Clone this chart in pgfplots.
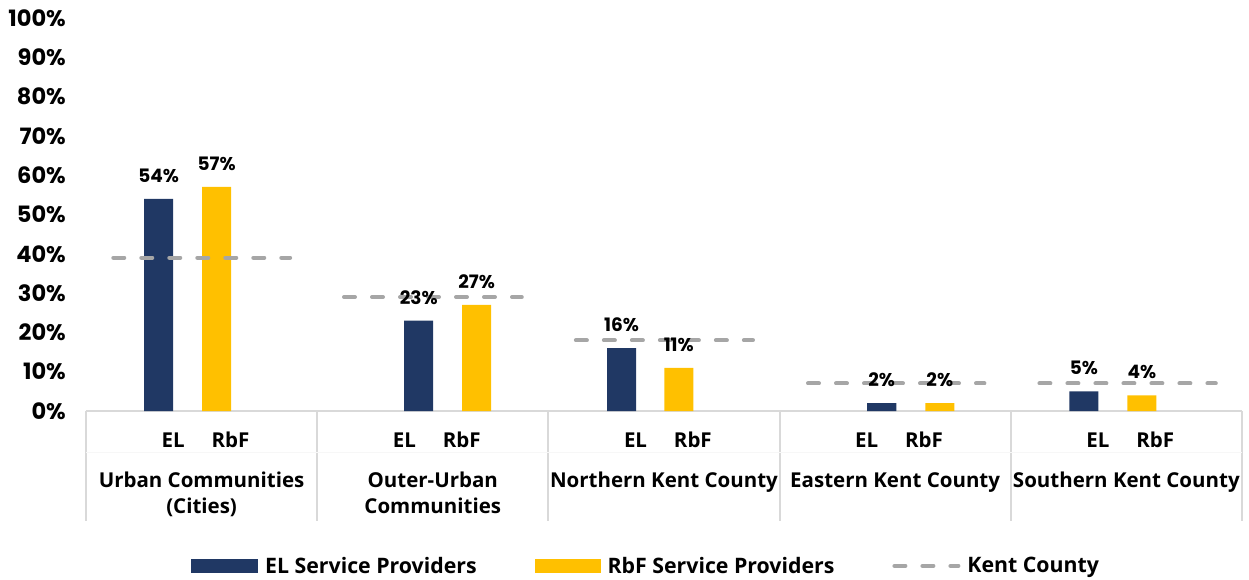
\documentclass[border=0pt]{standalone}
\usepackage{fontspec}
\usepackage{pgfplots}
\pgfplotsset{compat=1.18}
\usepackage{pgfplotstable}
\usetikzlibrary{calc}
\setmainfont{Open Sans}
\newfontfamily\numfont{Poppins}
\definecolor{elblue}{HTML}{203864}
\definecolor{rbfgold}{HTML}{FFC000}
\definecolor{kentgray}{HTML}{A6A6A6}
\definecolor{divgray}{HTML}{D9D9D9}
\newcommand{\catfont}{\bfseries\fontsize{20.5}{24}\selectfont}
\newcommand{\legfont}{\bfseries\fontsize{21.3}{24}\selectfont}
\newcommand{\tickfont}{\numfont\bfseries\fontsize{22.5}{22.5}\selectfont}
\newcommand{\labfont}{\numfont\bfseries\fontsize{18.5}{18.5}\selectfont}

\pgfplotstableread{
x y
0.314 54
1.439 23
2.317 16
3.442 2
4.316 5
}\eldata
\pgfplotstableread{
x y
0.565 57
1.690 27
2.564 11
3.693 2
4.567 4
}\rbfdata
\pgfplotstableread{
x y
0.118 39
0.883 39
1.0 nan
1.116 29
1.885 29
2.0 nan
2.119 18
2.885 18
3.0 nan
3.123 7
3.886 7
4.0 nan
4.124 7
4.887 7
}\kentdata

\begin{document}
\begin{tikzpicture}
\useasboundingbox (-86pt,-168pt) rectangle (1163pt,411pt);
\begin{axis}[
  width=1156pt, height=393pt, scale only axis,
  xmin=0, xmax=5, ymin=0, ymax=100,
  clip=false,
  axis x line*=bottom, axis y line*=left,
  x axis line style={divgray, line width=2pt},
  y axis line style={draw=none},
  xtick=\empty,
  ytick={0,10,...,100},
  ytick style={draw=none},
  major tick length=0pt,
  /pgf/number format/assume math mode=true,
  yticklabel={\pgfmathprintnumber{\tick}\%},
  yticklabel style={font=\tickfont, anchor=east, inner sep=0pt, xshift=-20pt},
  unbounded coords=jump,
  legend columns=3,
  legend cell align=left,
  legend style={draw=none, fill=none, at={(0.0908,-0.394)}, anchor=west,
    inner sep=0pt, font=\legfont,
    nodes={inner sep=0pt},
    /tikz/every odd column/.append style={column sep=7pt},
    /tikz/every even column/.append style={column sep=58pt}},
]
% bars
\addplot[ybar, bar width=0.1255, bar shift=0pt, fill=elblue, draw=none,
  legend image code/.code={\fill[elblue] (0pt,-7pt) rectangle (67pt,7pt);}]
  table[x=x,y=y] {\eldata};
\addlegendentry{EL Service Providers}
\addplot[ybar, bar width=0.1255, bar shift=0pt, fill=rbfgold, draw=none,
  legend image code/.code={\fill[rbfgold] (0pt,-7pt) rectangle (66pt,7pt);}]
  table[x=x,y=y] {\rbfdata};
\addlegendentry{RbF Service Providers}
% Kent County reference lines
\addplot[kentgray, line width=4pt, line cap=round, dash pattern=on 11pt off 17pt,
  legend image code/.code={\draw[kentgray, line width=4pt, line cap=round, dash pattern=on 11pt off 17pt] (2pt,0pt) -- (66pt,0pt);}]
  table[x=x,y=y] {\kentdata};
\addlegendentry{Kent County}
% value labels (on top)
\addplot[ybar, bar width=0.1255, bar shift=0pt, draw=none, fill=none, forget plot,
  nodes near coords={\pgfmathprintnumber{\pgfplotspointmeta}\%},
  nodes near coords style={font=\labfont, anchor=south, inner sep=0pt, yshift=16pt, text=black}]
  table[x=x,y=y] {\eldata};
\addplot[ybar, bar width=0.1255, bar shift=0pt, draw=none, fill=none, forget plot,
  nodes near coords={\pgfmathprintnumber{\pgfplotspointmeta}\%},
  nodes near coords style={font=\labfont, anchor=south, inner sep=0pt, yshift=16pt, text=black}]
  table[x=x,y=y] {\rbfdata};
% category axis grid
\draw[divgray, line width=2pt] (axis cs:0,0) -- ++(0pt,-110pt);
\draw[divgray, line width=2pt] (axis cs:1,0) -- ++(0pt,-110pt);
\draw[divgray, line width=2pt] (axis cs:2,0) -- ++(0pt,-110pt);
\draw[divgray, line width=2pt] (axis cs:3,0) -- ++(0pt,-110pt);
\draw[divgray, line width=2pt] (axis cs:4,0) -- ++(0pt,-110pt);
\draw[divgray, line width=2pt] (axis cs:5,0) -- ++(0pt,-110pt);
\draw[gray!6, line width=1pt] ($(axis cs:0,0)+(0pt,-41pt)$) -- ($(axis cs:5,0)+(0pt,-41pt)$);
% sub labels
\node[font=\catfont, anchor=base] at ($(axis cs:0.377,0)+(0pt,-36pt)$) {EL};
\node[font=\catfont, anchor=base] at ($(axis cs:0.625,0)+(0pt,-36pt)$) {RbF};
\node[font=\catfont, anchor=base] at ($(axis cs:1.377,0)+(0pt,-36pt)$) {EL};
\node[font=\catfont, anchor=base] at ($(axis cs:1.625,0)+(0pt,-36pt)$) {RbF};
\node[font=\catfont, anchor=base] at ($(axis cs:2.377,0)+(0pt,-36pt)$) {EL};
\node[font=\catfont, anchor=base] at ($(axis cs:2.625,0)+(0pt,-36pt)$) {RbF};
\node[font=\catfont, anchor=base] at ($(axis cs:3.377,0)+(0pt,-36pt)$) {EL};
\node[font=\catfont, anchor=base] at ($(axis cs:3.625,0)+(0pt,-36pt)$) {RbF};
\node[font=\catfont, anchor=base] at ($(axis cs:4.377,0)+(0pt,-36pt)$) {EL};
\node[font=\catfont, anchor=base] at ($(axis cs:4.625,0)+(0pt,-36pt)$) {RbF};
% category labels
\node[font=\catfont, anchor=base] at ($(axis cs:0.5,0)+(0pt,-76pt)$) {Urban Communities};
\node[font=\catfont, anchor=base] at ($(axis cs:0.5,0)+(0pt,-102pt)$) {(Cities)};
\node[font=\catfont, anchor=base] at ($(axis cs:1.5,0)+(0pt,-76pt)$) {Outer-Urban};
\node[font=\catfont, anchor=base] at ($(axis cs:1.5,0)+(0pt,-102pt)$) {Communities};
\node[font=\catfont, anchor=base] at ($(axis cs:2.5,0)+(0pt,-76pt)$) {Northern Kent County};
\node[font=\catfont, anchor=base] at ($(axis cs:3.5,0)+(0pt,-76pt)$) {Eastern Kent County};
\node[font=\catfont, anchor=base] at ($(axis cs:4.5,0)+(0pt,-76pt)$) {Southern Kent County};
\end{axis}
\end{tikzpicture}
\end{document}
